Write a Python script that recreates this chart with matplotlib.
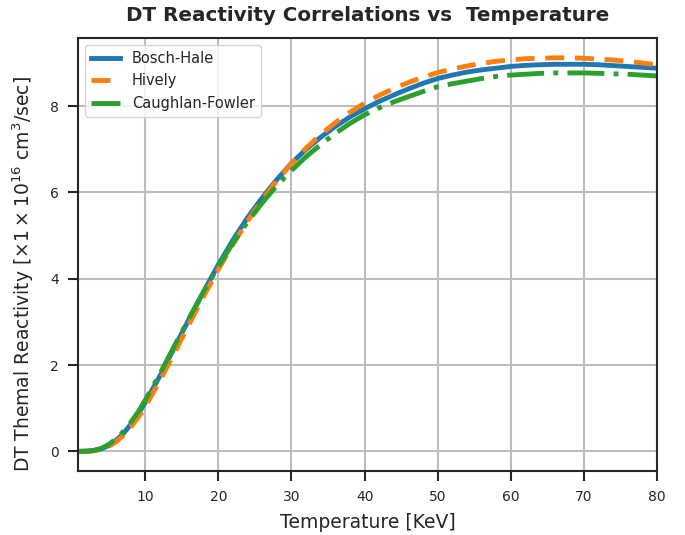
import matplotlib
matplotlib.use('Agg')
import matplotlib.pyplot as plt


# Temperature grid (keV) and DT reactivities in units of 1e-16 cm^3/s
temps = [1, 2, 3, 4, 5, 6, 7, 8, 9, 10,
         12, 14, 16, 18, 20, 22, 24, 26, 28, 30,
         32, 34, 36, 38, 40, 42, 44, 46, 48, 50,
         52, 54, 56, 58, 60, 62, 64, 66, 68, 70,
         72, 74, 76, 78, 80]

bosch_hale = [0.0001, 0.003, 0.019, 0.060, 0.137, 0.255, 0.415, 0.622, 0.86, 1.136,
              1.75, 2.41, 3.07, 3.71, 4.33, 4.90, 5.42, 5.88, 6.30, 6.68,
              7.00, 7.28, 7.53, 7.75, 7.94, 8.11, 8.26, 8.40, 8.53, 8.64,
              8.72, 8.79, 8.84, 8.88, 8.92, 8.945, 8.96, 8.97, 8.97, 8.97,
              8.96, 8.94, 8.92, 8.90, 8.88]

hively = [0.0, 0.002, 0.014, 0.048, 0.115, 0.22, 0.37, 0.56, 0.78, 1.04,
          1.64, 2.29, 2.95, 3.60, 4.22, 4.80, 5.34, 5.83, 6.27, 6.67,
          7.03, 7.34, 7.62, 7.86, 8.07, 8.25, 8.41, 8.55, 8.67, 8.78,
          8.86, 8.93, 8.99, 9.04, 9.07, 9.10, 9.11, 9.12, 9.12, 9.11,
          9.09, 9.07, 9.04, 9.00, 8.96]

caughlan_fowler = [0.0, 0.004, 0.024, 0.072, 0.16, 0.29, 0.46, 0.67, 0.91, 1.19,
                   1.80, 2.45, 3.09, 3.71, 4.29, 4.83, 5.32, 5.76, 6.16, 6.51,
                   6.83, 7.11, 7.37, 7.60, 7.80, 7.96, 8.10, 8.22, 8.34, 8.45,
                   8.52, 8.58, 8.64, 8.69, 8.72, 8.74, 8.76, 8.77, 8.77, 8.77,
                   8.76, 8.75, 8.74, 8.72, 8.70]

plt.rcParams['font.family'] = 'DejaVu Sans'
plt.rcParams['axes.edgecolor'] = '#262626'
plt.rcParams['text.color'] = '#262626'
plt.rcParams['axes.labelcolor'] = '#262626'
plt.rcParams['xtick.color'] = '#262626'
plt.rcParams['ytick.color'] = '#262626'

fig, ax = plt.subplots(figsize=(6.85, 5.35), dpi=100)
fig.subplots_adjust(left=0.114, right=0.959, top=0.929, bottom=0.1196)

ax.plot(temps, bosch_hale, '-', color='#1f77b4', lw=3.5, label='Bosch-Hale')
ax.plot(temps, hively, color='#ff7f0e', lw=3.5, dashes=(3.9, 2.2), label='Hively')
ax.plot(temps, caughlan_fowler, color='#2ca02c', lw=3.5, dashes=(7.6, 1.9, 1, 1.9),
        label='Caughlan-Fowler')

ax.set_xlim(0.8, 80)
ax.set_ylim(-0.456, 9.58)
ax.set_xticks([10, 20, 30, 40, 50, 60, 70, 80])
ax.set_yticks([0, 2, 4, 6, 8])

ax.grid(True, color='#bdbdc0', lw=1.5)
ax.set_axisbelow(True)
for s in ax.spines.values():
    s.set_linewidth(1.5)
ax.tick_params(direction='out', length=7, width=1.5, labelsize=10, pad=7)

ax.set_xlabel('Temperature [KeV]', fontsize=13.5, labelpad=6)
ax.set_ylabel(r'DT Themal Reactivity [$\times1\times10^{16}$ cm$^3$/sec]', fontsize=13.5)
ax.yaxis.set_label_coords(-0.072, 0.455)
ax.set_title('DT Reactivity Correlations vs  Temperature', fontsize=14.3,
             fontweight='bold', pad=12)

ax.legend(loc='upper left', fontsize=10.5, framealpha=0.8, edgecolor='#cccccc')

plt.savefig('out.png', dpi=100)
